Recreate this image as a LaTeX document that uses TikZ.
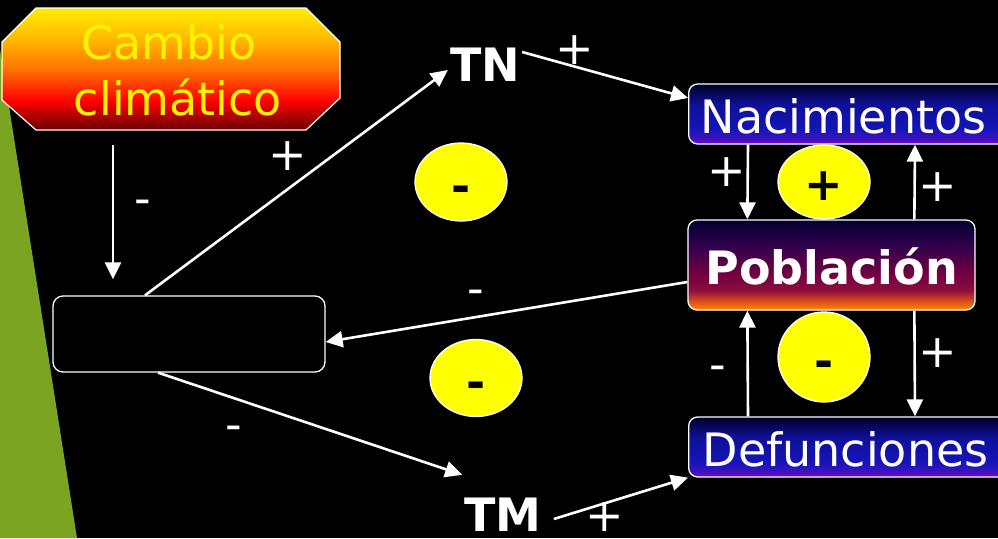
\documentclass[tikz,border=0pt]{standalone}
\usepackage{fontspec}
\setmainfont{DejaVu Sans}
\usetikzlibrary{arrows.meta,shapes.geometric}
\pgfdeclareverticalshading{ccshade}{100bp}{rgb(0bp)=(0.42,0,0); rgb(25bp)=(0.42,0,0); rgb(30bp)=(0.65,0,0); rgb(37bp)=(1,0,0); rgb(50bp)=(1,0.45,0); rgb(62bp)=(1,0.72,0); rgb(75bp)=(1,0.93,0); rgb(100bp)=(1,0.93,0)}
\pgfdeclareverticalshading{nacshade}{100bp}{rgb(0bp)=(0.5,0,0.8); rgb(25bp)=(0.5,0,0.8); rgb(30bp)=(0.22,0.08,0.75); rgb(38bp)=(0.08,0.08,0.72); rgb(58bp)=(0.06,0.06,0.6); rgb(75bp)=(0,0,0.15); rgb(100bp)=(0,0,0.15)}
\pgfdeclareverticalshading{pobshade}{100bp}{rgb(0bp)=(1,0.55,0); rgb(25bp)=(1,0.55,0); rgb(30bp)=(0.85,0.3,0.1); rgb(36bp)=(0.55,0.05,0.25); rgb(45bp)=(0.45,0,0.25); rgb(60bp)=(0.2,0,0.3); rgb(75bp)=(0,0,0.2); rgb(100bp)=(0,0,0.2)}
\definecolor{wedge}{RGB}{122,164,34}
\definecolor{bubyellow}{RGB}{255,255,0}
\tikzset{
  big/.style={font=\fontsize{46}{50}\selectfont},
  bigb/.style={font=\bfseries\fontsize{46}{50}\selectfont},
  lbl/.style={big, text=white, inner sep=0pt},
  conn/.style={draw=white, line width=2.6pt, -{Triangle[length=17pt,width=16pt]}},
  sbox/.style={draw=white, line width=1.3pt, rounded corners=9pt, inner sep=0pt, text=white, big, text height=38pt, text depth=0pt},
  bub/.style={ellipse, fill=bubyellow, draw=white, line width=1.3pt, inner sep=0pt, bigb, text=black, minimum width=92pt}
}
\begin{document}
\begin{tikzpicture}[x=1pt,y=-1pt]
\useasboundingbox (0,0) rectangle (998,538);
\clip (0,0) rectangle (998,538);
\fill[black] (0,0) rectangle (998,538);
\fill[wedge] (0,49) -- (77,538) -- (0,538) -- cycle;

% octagon
\node[minimum width=338pt, minimum height=122pt, inner sep=0pt] (cc) at (171,69) {};
\shadedraw[shading=ccshade, draw=white, line width=1.2pt]
  (36,8) -- (306,8) -- (340,42) -- (340,98) -- (306,130) -- (36,130) -- (2,100) -- (2,42) -- cycle;
\node[big, text=yellow, anchor=base, inner sep=0pt] (cc1) at (169,59) {Cambio};
\node[big, text=yellow, anchor=base, inner sep=0pt] (cc2) at (178,115) {climático};

% boxes
\node[draw=white, line width=1.3pt, rounded corners=10pt, minimum width=272pt, minimum height=76pt, inner sep=0pt] (st) at (189,334) {};
\node[sbox, shade, shading=nacshade, anchor=west, minimum height=60pt, text width=300pt, align=left, inner xsep=12pt] (nac) at (688,114) {Nacimientos};
\node[sbox, shade, shading=pobshade, bigb, minimum width=287pt, minimum height=90pt] (pob) at (831.5,265) {Población};
\node[sbox, shade, shading=nacshade, anchor=west, minimum height=60pt, text width=300pt, align=left, inner xsep=14pt] (def) at (688,447) {Defunciones};

\node[lbl, bigb, inner sep=2pt, text height=34pt, text depth=0pt] (tn) at (485,64) {TN};
\node[lbl, bigb, inner sep=1pt, text height=34pt, text depth=0pt] (tm) at (503,514) {TM};

% connectors
\draw[conn] ([xshift=-58pt,yshift=-15pt]cc.south) -- ([xshift=-76pt,yshift=16pt]st.north);
\draw[conn] ([xshift=-44pt]st.north) -- ([yshift=-6pt]tn.west);
\draw[conn] ([yshift=12pt]tn.east) -- ([yshift=16pt]nac.west);
\draw[conn] ([yshift=-17pt]pob.west) -- ([yshift=-8pt]st.east);
\draw[conn] ([xshift=-31pt]st.south) -- ([xshift=-1pt,yshift=21pt]tm.north west);
\draw[conn] ([xshift=11pt,yshift=-5pt]tm.east) -- (def.south west);
\draw[conn] ([xshift=60pt]nac.south west) -- ([xshift=60pt]pob.north west);
\draw[conn] ([xshift=227pt]pob.north west) -- ([xshift=227pt]nac.south west);
\draw[conn] ([xshift=60pt]def.north west) -- ([xshift=60pt]pob.south west);
\draw[conn] ([xshift=227pt]pob.south west) -- ([xshift=227pt]def.north west);

% sign labels
\node[lbl, anchor=base] (m1) at (143,214) {-};
\node[lbl] (p1) at (288,156) {+};
\node[lbl] (p2) at (575,50) {+};
\node[lbl, anchor=base] (m2) at (476,304) {-};
\node[lbl, anchor=base] (m3) at (234,440) {-};
\node[lbl] (p3) at (605,517) {+};
\node[lbl] (p4) at (727,172) {+};
\node[lbl] (p5) at (938,187) {+};
\node[lbl, anchor=base] (m4) at (718,380) {-};
\node[lbl] (p6) at (938,353) {+};

% bubbles
\node[bub, minimum height=78pt, text height=40pt, text depth=0pt] (b1) at (461,182) {-};
\node[bub, minimum height=77pt, text height=40pt, text depth=0pt] (b2) at (476,378) {-};
\node[bub, minimum height=74pt, text height=36pt, text depth=0pt] (b3) at (824,182) {+};
\node[bub, minimum height=90pt, text height=40pt, text depth=0pt] (b4) at (824,357) {-};
\end{tikzpicture}
\end{document}
